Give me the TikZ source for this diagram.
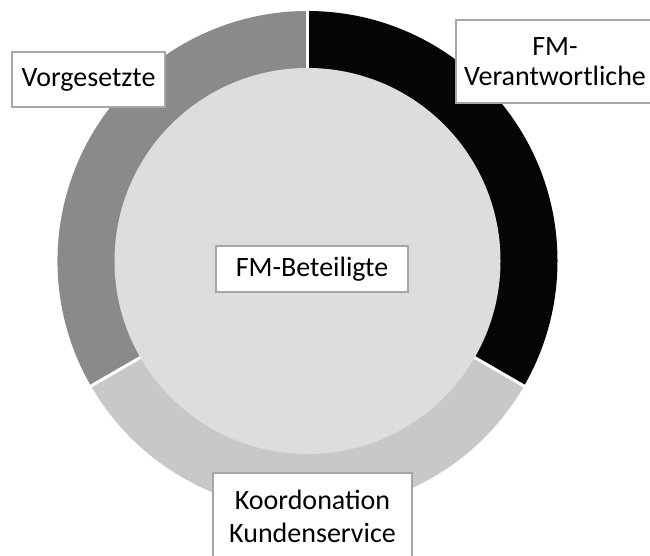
\documentclass[tikz,border=0pt]{standalone}
\usepackage{fontspec}
\setmainfont{Carlito}
\definecolor{segA}{HTML}{8A8A8A}
\definecolor{segB}{HTML}{050505}
\definecolor{segC}{HTML}{C8C8C8}
\definecolor{innerc}{HTML}{DDDDDD}
\definecolor{boxline}{HTML}{A6A6A6}
\begin{document}
\begin{tikzpicture}[x=1pt,y=1pt,
  lbl/.style={draw=boxline,line width=1.2pt,fill=white,inner sep=0pt,align=center,
    font=\fontsize{28}{30}\selectfont},
  gapline/.style={white,line width=3pt}]
\useasboundingbox (0,0) rectangle (650,556);
\coordinate (c) at (307.5,295);
% ring segments
\fill[segB] (c) -- ++(90:250) arc[start angle=90,end angle=-30,radius=250] -- cycle;
\fill[segC] (c) -- ++(-30:250) arc[start angle=-30,end angle=-150,radius=250] -- cycle;
\fill[segA] (c) -- ++(-150:250) arc[start angle=-150,end angle=-270,radius=250] -- cycle;
% gaps
\draw[gapline] (c) -- ++(90:252);
\draw[gapline] (c) -- ++(-30:252);
\draw[gapline] (c) -- ++(-150:252);
% inner disc
\fill[innerc] (c) circle[radius=193];
% labels
\node[lbl,minimum width=153,minimum height=55] (vor) at (88.5,476.5) {Vorgesetzte};
\node[lbl,minimum width=198,minimum height=83] (ver) at (555,494.5) {FM-\\Verantwortliche};
\node[lbl,minimum width=192,minimum height=46] (bet) at (312,287) {FM-Beteiligte};
\node[lbl,minimum width=199,minimum height=86,font=\fontsize{28}{33}\selectfont] (koo) at (312.5,40) {Koordonation\\Kundenservice};
\end{tikzpicture}
\end{document}
